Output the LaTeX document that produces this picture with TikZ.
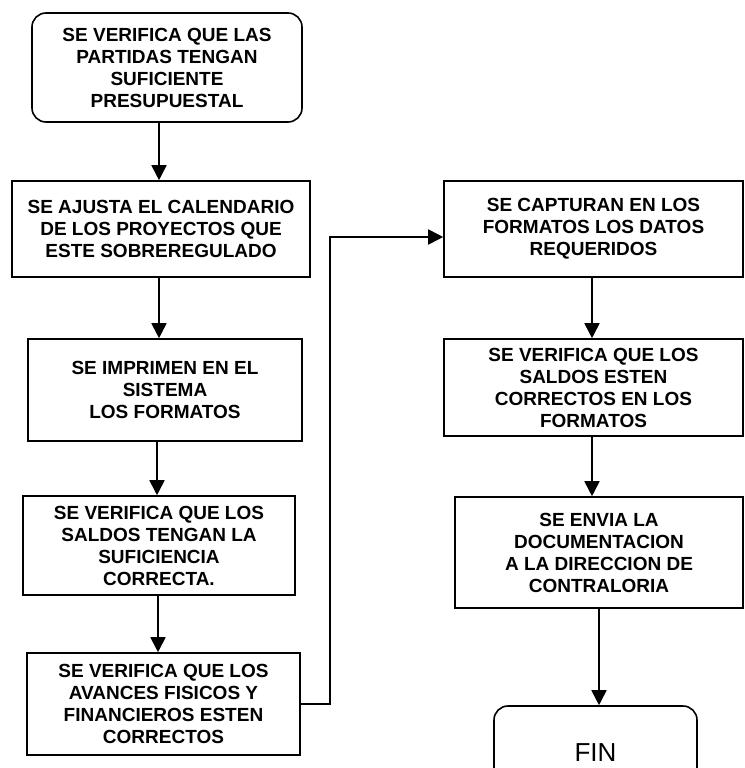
\documentclass[tikz,border=0pt]{standalone}
\usepackage{fontspec}
\setmainfont{Liberation Sans}
\usetikzlibrary{arrows.meta}

\begin{document}
\begin{tikzpicture}[x=1pt,y=-1pt,
  paso/.style={draw, line width=1.6pt, align=center, inner sep=0pt,
    font=\bfseries\fontsize{19}{22}\selectfont},
  inicio/.style={paso, rounded corners=14pt},
  flecha/.style={line width=1.8pt, -{Triangle[width=15pt,length=15pt]}}]

  %page
  \useasboundingbox (0,0) rectangle (744,768);
  \clip (0,0) rectangle (744,768);

  %first column
  \node[inicio, minimum width=270pt, minimum height=109pt] (partidas) at (167,67.5)
    {SE VERIFICA QUE LAS\\PARTIDAS TENGAN\\SUFICIENTE\\PRESUPUESTAL};
  \node[paso, minimum width=298pt, minimum height=96pt] (ajusta) at (161,229)
    {SE AJUSTA EL CALENDARIO\\DE LOS PROYECTOS QUE\\ESTE SOBREREGULADO};
  \node[paso, minimum width=274pt, minimum height=102pt] (imprimen) at (165,390)
    {SE IMPRIMEN EN EL\\SISTEMA\\LOS FORMATOS};
  \node[paso, minimum width=272pt, minimum height=99pt] (saldos) at (159,545.5)
    {SE VERIFICA QUE LOS\\SALDOS TENGAN LA\\SUFICIENCIA\\CORRECTA.};
  \node[paso, minimum width=273pt, minimum height=102pt] (avances) at (163.5,704)
    {SE VERIFICA QUE LOS\\AVANCES FISICOS Y\\FINANCIEROS ESTEN\\CORRECTOS};

  %second column
  \node[paso, minimum width=299pt, minimum height=96pt] (capturan) at (593.5,229)
    {SE CAPTURAN EN LOS\\FORMATOS LOS DATOS\\REQUERIDOS};
  \node[paso, minimum width=299pt, minimum height=97pt] (formatos) at (593.5,387.5)
    {SE VERIFICA QUE LOS\\SALDOS ESTEN\\CORRECTOS EN LOS\\FORMATOS};
  \node[paso, minimum width=288pt, minimum height=111pt] (envia) at (599,552.5)
    {SE ENVIA LA\\DOCUMENTACION\\A LA DIRECCION DE\\CONTRALORIA};
  \node[inicio, minimum width=203pt, minimum height=94pt,
    font=\fontsize{26}{30}\selectfont] (fin) at (595.5,753) {FIN};

  %arrows
  \draw[flecha] (partidas.south -| 159,0) -- (ajusta.north -| 159,0);
  \draw[flecha] (ajusta.south -| 159,0) -- (imprimen.north -| 159,0);
  \draw[flecha] (imprimen.south -| 157,0) -- (saldos.north -| 157,0);
  \draw[flecha] (saldos.south -| 158,0) -- (avances.north -| 158,0);

  \coordinate (subida) at (330,237);
  \draw[flecha] (avances.east) -| (subida) -- (subida -| capturan.west);

  \draw[flecha] (capturan.south -| 592,0) -- (formatos.north -| 592,0);
  \draw[flecha] (formatos.south -| 592,0) -- (envia.north -| 592,0);
  \draw[flecha] (envia.south -| 599,0) -- (fin.north -| 599,0);

\end{tikzpicture}
\end{document}
